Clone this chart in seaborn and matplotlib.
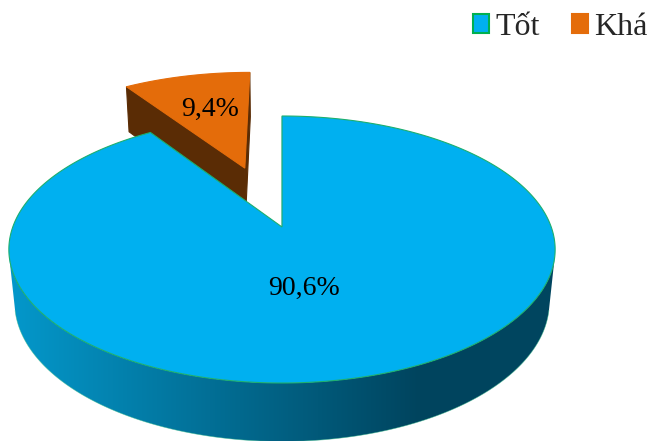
import numpy as np
import matplotlib
matplotlib.use("Agg")
import matplotlib.pyplot as plt
from matplotlib.patches import Polygon, Patch
import seaborn as sns

# ---- data -------------------------------------------------------------
categories = ["Tốt", "Khá"]
shares = [90.6, 9.4]
explode = [0.0, 0.514]
value_labels = [f"{v:.1f}%".replace(".", ",") for v in shares]
label_pos = [(304, 288), (210, 109)]

# ---- style ------------------------------------------------------------
sns.set_theme(style="white")
plt.rcParams["font.family"] = ["Liberation Serif", "DejaVu Serif"]

top_colors = sns.color_palette(["#00B0F0", "#E46C0A"])
cut_colors = ["#00506E", "#5A2C05"]
edge_colors = ["#1DAF6E", "#E46C0A"]
# side wall shading (left lit -> right in shadow)
side_x = [10, 420, 560]
side_rgb = [np.array([[4, 152, 203], [0, 68, 94], [0, 70, 96]]) / 255.0,
            np.array([[120, 60, 10], [70, 34, 6], [70, 34, 6]]) / 255.0]

# ---- 3-D projection of the pie disc ----------------------------------
PHI = np.radians(28.8)
S, C = np.sin(PHI), np.cos(PHI)
DIST, FOCAL = 5.2, 1400.0
X0, Y0 = 282.0, 227.0
THICK = 0.225
CAM = np.array([0.0, -DIST * C, DIST * S])


def project(u, v, w):
    d = DIST + v * C - w * S
    return X0 + FOCAL * u / d, Y0 - FOCAL * (v * S + w * C) / d


fig = plt.figure(figsize=(6.53, 4.41), dpi=100)
ax = fig.add_axes([0, 0, 1, 1])
ax.set_xlim(0, 653)
ax.set_ylim(441, 0)
ax.axis("off")

# slice angle ranges, clockwise from 12 o'clock
fractions = np.array(shares) / np.sum(shares)
bounds = np.concatenate([[0.0], np.cumsum(fractions)]) * 2 * np.pi

slices = []
for i in range(len(shares)):
    t0, t1 = bounds[i], bounds[i + 1]
    tm = 0.5 * (t0 + t1)
    slices.append((i, t0, t1, explode[i] * np.sin(tm), explode[i] * np.cos(tm)))

# far slices first
slices.sort(key=lambda s: -s[4])

xs = np.linspace(0, 653, 654)
for i, t0, t1, ou, ov in slices:
    th = np.linspace(t0, t1, max(16, int(np.degrees(t1 - t0) * 3)))

    # curved outer wall: keep the part facing the camera
    normals = np.stack([np.sin(th), np.cos(th), np.zeros_like(th)], axis=1)
    points = np.stack([ou + np.sin(th), ov + np.cos(th), np.zeros_like(th)], axis=1)
    facing = np.einsum("ij,ij->i", normals, CAM - points) > 0
    if facing.any():
        idx = np.where(facing)[0]
        # contiguous front run
        runs = np.split(idx, np.where(np.diff(idx) != 1)[0] + 1)
        for run in runs:
            tu, tv = points[run, 0], points[run, 1]
            upper = [project(a, b, 0) for a, b in zip(tu, tv)]
            lower = [project(a, b, -THICK) for a, b in zip(tu, tv)]
            outline = upper + lower[::-1]
            wall = Polygon(outline, closed=True, facecolor="none",
                           edgecolor="none")
            ax.add_patch(wall)
            grad = np.stack([np.interp(xs, side_x, side_rgb[i][:, k])
                             for k in range(3)], axis=-1)[None, :, :]
            im = ax.imshow(grad, extent=(0, 653, 441, 0), aspect="auto",
                           interpolation="bilinear")
            im.set_clip_path(wall)
            ax.plot([p[0] for p in lower], [p[1] for p in lower],
                    color="#3FBF8F", lw=0.5, alpha=0.6)

    # radial cut faces
    centre = np.array([ou, ov, 0.0])
    for t, sign in ((t0, -1), (t1, 1)):
        n = sign * np.array([np.cos(t), -np.sin(t), 0.0])
        if np.dot(n, CAM - centre) < -1e-6:
            continue
        ex, ey = ou + np.sin(t), ov + np.cos(t)
        pts = [project(ou, ov, 0), project(ex, ey, 0),
               project(ex, ey, -THICK), project(ou, ov, -THICK)]
        ax.add_patch(Polygon(pts, closed=True, facecolor=cut_colors[i],
                             edgecolor=cut_colors[i], lw=0.8))

    # top face
    top = [project(ou, ov, 0)] + [project(p[0], p[1], 0) for p in points]
    ax.add_patch(Polygon(top, closed=True, facecolor=top_colors[i],
                         edgecolor=edge_colors[i], lw=0.8, joinstyle="miter"))

ax.set_xlim(0, 653)
ax.set_ylim(441, 0)

for (x, y), txt in zip(label_pos, value_labels):
    ax.text(x, y, txt, ha="center", va="center", fontsize=20, color="black")

handles = [
    Patch(facecolor=top_colors[0], edgecolor="#00B050", lw=1.5),
    Patch(facecolor=top_colors[1], edgecolor=top_colors[1], lw=1.5),
]
fig.legend(handles, categories, loc="upper right", bbox_to_anchor=(1.002, 0.985),
           ncol=2, frameon=False, fontsize=23, handlelength=0.5, handleheight=0.55,
           handletextpad=0.2, columnspacing=1.0, borderpad=0.2, borderaxespad=0)

fig.savefig("out.png", dpi=100)
